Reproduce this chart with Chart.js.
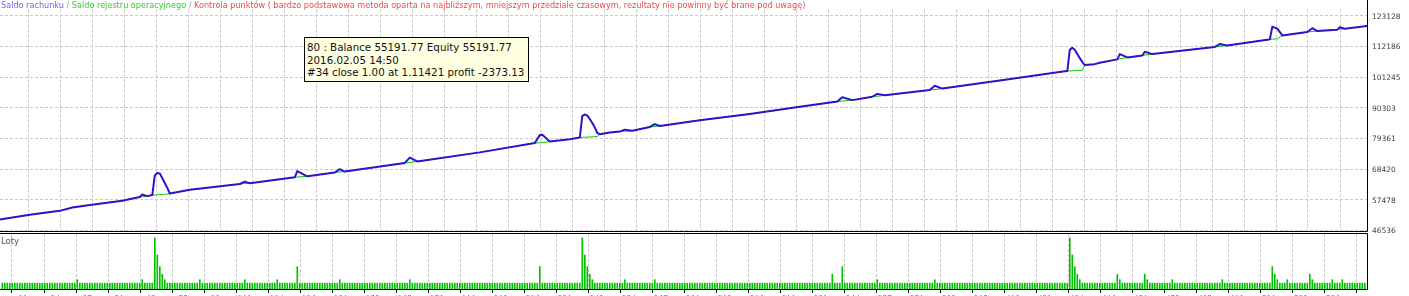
<!DOCTYPE html>
<html><head><meta charset="utf-8">
<script src="https://cdn.jsdelivr.net/npm/chart.js@4.4.1/dist/chart.umd.min.js"></script>
<style>
html,body{margin:0;padding:0;background:#fff;}
#wrap{position:relative;width:1409px;height:296px;overflow:hidden;background:#fff;}
canvas{position:absolute;left:0;top:0;}
#legend{position:absolute;left:1px;top:-1px;font-family:"DejaVu Sans";font-size:8.15px;line-height:12px;white-space:nowrap;}
#loty{position:absolute;left:1px;top:236px;font-family:"DejaVu Sans";font-size:8.5px;color:#555;}
#tip{position:absolute;left:304px;top:37px;width:225px;height:45px;box-sizing:border-box;border:1px solid #000;background:#ffffe1;font-family:"DejaVu Sans";font-size:10.3px;line-height:12.5px;padding:3px 0 0 2px;color:#111;white-space:nowrap;}
</style></head>
<body>
<div id="wrap">
<canvas id="c1" width="1409" height="296"></canvas>
<canvas id="c2" width="1409" height="296"></canvas>
<div id="legend"><span style="color:#7262e0">Saldo rachunku</span><span style="color:#a0a0a0"> / </span><span style="color:#2ed02e">Saldo rejestru operacyjnego</span><span style="color:#a0a0a0"> / </span><span style="color:#f04a4a">Kontrola punktów ( bardzo podstawowa metoda oparta na najbliższym, mniejszym przedziale czasowym, rezultaty nie powinny być brane pod uwagę)</span></div>
<div id="loty">Loty</div>
<div id="tip">80 : Balance 55191.77 Equity 55191.77<br>2016.02.05 14:50<br>#34 close 1.00 at 1.11421 profit -2373.13</div>
</div>
<script>
// ---- data ----
const tradeNo = [0,12,24,29,36,49,55,56,57,59,61,62,63,64,65,66,67,68,76,96,98,100,118,119,123,134,136,138,162,164,167,192,214,216,217,220,228,232,233,234,235,236,237,238,239,240,244,248,250,253,260,262,264,280,300,320,335,337,341,349,351,354,372,374,377,400,426,427,428,429,430,431,432,433,434,438,440,447,448,451,457,458,461,486,488,491,507,508,509,511,513,523,525,527,535,536,538,547];
const balance = [50468,52178,53546,54742,55597,57136,58333,58500,59358,58800,59187,66200,67052,66900,65171,63462,61752,59700,61068,63120,63974,63400,65513,67736,65855,67223,68420,67565,70642,72523,71155,74403,77720,80558,80661,78267,79088,79703,87397,87900,87500,86300,84900,83300,81300,80900,81481,81823,82507,82097,83464,84490,83806,85858,88080,90645,92526,94064,93038,94235,95261,94748,96629,98167,97142,100048,103296,103400,110990,111674,111000,109500,108000,106600,105519,105861,106374,107570,109451,108254,108938,110306,109451,112016,113041,112528,114580,114700,119196,118512,116119,117316,118683,117657,118170,119025,118512,119500];
const equity = [50468,52178,53546,54742,55597,57136,58333,58500,58600,58800,59187,59250,59300,59350,59400,59450,59500,59700,61068,63120,63290,63400,65513,65600,65855,67223,67394,67565,70642,70813,71155,74403,77720,77823,77850,78267,79088,79703,79750,79800,79850,79900,79950,80000,80050,80900,81481,81823,81926,82097,83464,83635,83806,85858,88080,90645,92526,92697,93038,94235,94406,94748,96629,96800,97142,100048,103296,103400,103450,103500,103550,103600,103650,103700,105519,105861,106374,107570,107741,108254,108938,109109,109451,112016,112187,112528,114580,114700,114751,114900,116119,117316,117486,117657,118170,118341,118512,119500];
// lots per trade (trade number = index + 1)
const lots = [
1,1,1,1,1,1,1,1,1,1,1,1,1,1,1,1,1,1,1,1,
1,1,1,1,1,1,1,1,1,1,1.5,1,1,1,1,1,1,1,1,1,
1,1,1,1,1,1,1,1,1,1,1,1,1,1,1,1,1.5,1,1,1,
1,7.6,5.1,3.4,2.3,1.5,1,1,1,1,1,1,1,1,1,1,1,1,1,1.5,
1,1,1,1,1,1,1,1,1,1,1,1,1,1,1,1,1,1.5,1,1,
1,1,1,1,1,1,1,1,1,1,1.5,1,1,1,1,1,1,1,3.4,1,
1,1,1,1,1,1,1,1,1,1,1,1,1,1,1,1.5,1,1,1,1,
1,1,1,1,1,1,1,1,1,1,1,1,1,1,1,1,1,1,1,1,
1,1,1,1.5,1,1,1,1,1,1,1,1,1,1,1,1,1,1,1,1,
1,1,1,1,1,1,1,1,1,1,1,1,1,1,1,1,1,1,1,1,
1,1,1,1,1,1,1,1,1,1,1,1,1,1,1,3.4,1,1,1,1,
1,1,1,1,1,1,1,1,1,1,1,1,7.6,5.1,3.4,2.3,1.5,1,1,1,
1,1,1,1,1,1,1,1,1,1.5,1,1,1,1,1,1,1,1,1,1,
1,1.5,1,1,1,1,1,1,1,1,1,1,1,1,1,1,1,1,1,1,
1,1,1,1,1,1,1,1,1,1,1,1,1,1,1,1,1,1,1,1,
1,1,1,1,1,1,1,1,1,1,1,1,1,1,1,1,1,1,1,1,
1,1,1,1,1,1,1,1,1,1,1,1,2.3,1,1,1,3.4,1,1,1,
1,1,1,1,1,1,1,1,1,1,1.5,1,1,1,1,1,1,1,1,1,
1,1,1,1,1,1,1,1,1,1,1,1,1,1.5,1,1,1,1,1,1,
1,1,1,1,1,1,1,1,1,1,1,1,1,1,1,1,1,1,1,1,
1,1,1,1,1,1,1,1,1,1,1,1,1,1,1,1,1,1,1,1,
1,1,1,1,1,1,1,7.6,5.1,3.4,2.3,1.5,1,1,1,1,1,1,1,1,
1,1,1,1,1,1,2.3,1.5,1,1,1,1,1,1,1,1,1,2.3,1.5,1,
1,1,1,1,1,1,1,1,1.5,1,1,1,1,1,1,1,1,1,1,1,
1,1,1,1,1,1,1,1,1.5,1,1,1,1,1,1,1,1,1,1,1,
1,1,1,1,1,1,1,1,3.4,2.3,1.5,1,1,1,1.5,1,1,1,1,1,
1,1,1,2.3,1.5,1,1,1,1,1,1,1,1.5,1,1,1,1.5,1,1,1,
1,1,1,1,1,1];
const yTicks = [46536,57478,68420,79361,90303,101245,112186,123128];
const xTickLabels = ['11','24','37','50','62','75','88','101','114','126','139','152','165','178','190','203','216','229','242','254','267','280','293','306','318','331','344','357','370','382','395','408','421','434','446','459','472','485','498','510','523','536'];

// ---- axis config ----
const xMin = 0.08, xMax = 546.88, xGridStart = 11.28, xGridStep = 12.8;
const yMin = 46365, yMax = 125350;
const FONT = 'DejaVu Sans';
const gridCol = '#c8c8c8';

const framePlugin = {
  id: 'frame',
  afterDraw(chart, args, opts) {
    const {ctx, chartArea: a} = chart;
    ctx.save();
    ctx.strokeStyle = '#000'; ctx.lineWidth = 1;
    ctx.beginPath();
    if (opts.kind === 'main') {
      ctx.moveTo(0, a.bottom + 0.5); ctx.lineTo(a.right + 0.5, a.bottom + 0.5);
      ctx.moveTo(a.right + 0.5, 0); ctx.lineTo(a.right + 0.5, a.bottom + 0.5);
    } else {
      ctx.moveTo(0, a.top - 0.5); ctx.lineTo(a.right + 0.5, a.top - 0.5);
      ctx.lineTo(a.right + 0.5, a.bottom - 0.5); ctx.lineTo(0, a.bottom - 0.5);
    }
    ctx.stroke();
    ctx.restore();
  }
};

const xGridTicks = axis => { axis.ticks = xTickLabels.map((l, k) => ({value: xGridStart + k * xGridStep})); };

new Chart(document.getElementById('c1'), {
  type: 'line',
  data: {datasets: [
    {label: 'Saldo rejestru operacyjnego', data: tradeNo.map((n, i) => ({x: n, y: equity[i]})), borderColor: '#00c800', borderWidth: 1, pointRadius: 0, tension: 0, order: 2},
    {label: 'Saldo rachunku', data: tradeNo.map((n, i) => ({x: n, y: balance[i]})), borderColor: '#3311cc', borderWidth: 2, pointRadius: 0, tension: 0, order: 1, borderJoinStyle: 'round'}
  ]},
  options: {
    responsive: false, animation: false, devicePixelRatio: 1,
    layout: {padding: {left: 0, right: 0, top: 0, bottom: 65}, autoPadding: false},
    plugins: {legend: {display: false}, tooltip: {enabled: false}, frame: {kind: 'main'}},
    scales: {
      x: {type: 'linear', min: xMin, max: xMax, afterBuildTicks: xGridTicks, afterFit: a => { a.height = 0; },
          ticks: {display: false}, grid: {color: gridCol, drawTicks: false, borderDash: [3, 2]}, border: {display: false, dash: [3, 2]}},
      y: {position: 'right', min: yMin, max: yMax,
          afterBuildTicks: a => { a.ticks = yTicks.map(v => ({value: v})); },
          afterFit: a => { a.width = 42; },
          ticks: {callback: v => String(v), font: {family: FONT, size: 7.5}, color: '#404040', padding: 5, labelOffset: 1},
          grid: {color: gridCol, drawTicks: false, borderDash: [3, 2]}, border: {display: false, dash: [3, 2]}}
    }
  },
  plugins: [framePlugin]
});

new Chart(document.getElementById('c2'), {
  type: 'bar',
  data: {datasets: [
    {label: 'Loty', data: lots.map((v, i) => ({x: i + 1, y: v})), backgroundColor: '#00c000', borderWidth: 0, barThickness: 1}
  ]},
  options: {
    responsive: false, animation: false, devicePixelRatio: 1,
    layout: {padding: {left: 0, right: 0, top: 234, bottom: 0}, autoPadding: false},
    plugins: {legend: {display: false}, tooltip: {enabled: false}, frame: {kind: 'lots'}},
    scales: {
      x: {type: 'linear', min: xMin, max: xMax, offset: false, afterBuildTicks: xGridTicks, afterFit: a => { a.height = 6; },
          ticks: {callback: (v, i) => xTickLabels[i], font: {family: FONT, size: 7.5}, color: '#404040', padding: 2, align: 'end', maxRotation: 0, autoSkip: false},
          grid: {color: gridCol, tickColor: '#000', tickLength: 3, borderDash: [3, 2]}, border: {display: false, dash: [3, 2]}},
      y: {position: 'right', min: 0, max: 8.16, afterFit: a => { a.width = 42; },
          ticks: {display: false}, grid: {display: false}, border: {display: false}}
    }
  },
  plugins: [framePlugin]
});
</script>
</body></html>
